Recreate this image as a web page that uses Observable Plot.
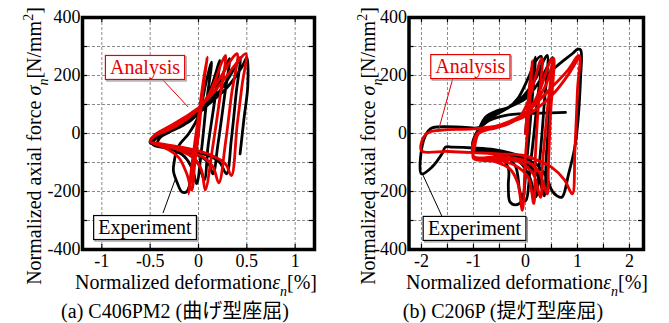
<!DOCTYPE html>
<html><head><meta charset="utf-8">
<script src="https://cdn.jsdelivr.net/npm/d3@7"></script>
<script src="https://cdn.jsdelivr.net/npm/@observablehq/plot@0.6"></script>
<style>
body{margin:0;background:#fff;}
#wrap{display:flex;width:669px;height:323px;overflow:hidden;}
svg{display:block;}
</style></head><body><div id="wrap"></div>
<script>
// ---------- data ----------
const yTicks = [-400, -200, 0, 200, 400];
const yGrid = [-300, -200, -100, 0, 100, 200, 300];
const xTicksA = [-1, -0.5, 0, 0.5, 1];
const xGridA = [-1, -0.5, 0, 0.5, 1];
const xTicksB = [-2, -1, 0, 1, 2];
const xGridB = [-2, -1.5, -1, -0.5, 0, 0.5, 1, 1.5, 2];

// (a) C406PM2 — Experiment (black)
const expA = [[0,0],[-0.06,-120],[-0.12,-200],[-0.17,-202],[-0.22,-170],[-0.26,-128],[-0.25,-95],[-0.24,-76],
[-0.2,-40],[-0.1,0],[0,60],[0.08,180],[0.135,246],
[0.08,100],[0.03,-60],[-0.02,-173],[-0.06,-125],[-0.15,-78],[-0.3,-52],[-0.42,-40],
[-0.4,-15],[-0.3,5],[-0.15,30],[0,70],[0.1,130],[0.18,210],[0.22,252],
[0.17,120],[0.1,-40],[0.06,-160],[0.0,-105],[-0.1,-72],[-0.3,-52],[-0.47,-38],
[-0.42,-10],[-0.3,10],[-0.1,40],[0.05,90],[0.18,150],[0.27,220],[0.32,258],
[0.27,130],[0.2,-40],[0.15,-139],[0.1,-100],[0,-76],[-0.2,-56],[-0.48,-36],
[-0.45,-10],[-0.3,15],[-0.1,45],[0.1,100],[0.25,160],[0.38,230],[0.43,262],
[0.39,140],[0.34,-20],[0.29,-139],[0.22,-100],[0.1,-76],[-0.1,-60],[-0.3,-46],[-0.5,-32],
[-0.45,-5],[-0.3,20],[-0.1,50],[0.1,100],[0.3,160],[0.45,230],[0.5,262],
[0.51,165],[0.47,50],[0.43,-70]];

// (a) C406PM2 — Analysis (red)
const anaA = [[0,0],[-0.06,-120],[-0.105,-208],[-0.05,-60],[0,60],[0.05,180],[0.09,263],
[0.05,160],[0,0],[-0.04,-110],[-0.07,-195],[-0.12,-140],[-0.2,-85],[-0.3,-58],[-0.4,-42],[-0.5,-28],
[-0.47,-12],[-0.4,0],[-0.3,14],[-0.2,32],[-0.1,55],[0,85],[0.1,130],[0.18,190],[0.24,245],[0.28,269],
[0.22,120],[0.15,-40],[0.07,-194],[0.03,-125],[-0.05,-85],[-0.2,-58],[-0.35,-42],[-0.5,-28],
[-0.45,-8],[-0.3,18],[-0.15,45],[0,85],[0.12,140],[0.25,205],[0.34,255],[0.4,275],
[0.34,130],[0.28,-30],[0.21,-170],[0.15,-115],[0.05,-82],[-0.1,-62],[-0.3,-45],[-0.5,-28],
[-0.45,-5],[-0.3,22],[-0.1,62],[0.1,120],[0.25,180],[0.4,245],[0.49,275],
[0.45,165],[0.4,30],[0.34,-145],[0.28,-105],[0.15,-78],[0,-60],[-0.2,-46],[-0.4,-35],[-0.5,-28],
[-0.45,-5],[-0.3,25],[-0.1,65],[0.05,100]];

// (b) C206P — Experiment (black)
const expB = [[0,0],[0.1,180],[0.19,263],
[0.12,100],[0.02,-100],[-0.08,-235],[-0.2,-246],[-0.3,-235],[-0.33,-180],[-0.33,-120],[-0.5,-80],[-0.75,-65],[-1.0,-58],
[-0.95,-10],[-0.9,12],[-0.77,56],[-0.55,78],[-0.32,91],[-0.15,120],[0.05,190],[0.2,250],[0.3,266],
[0.22,100],[0.1,-100],[0.0,-232],[-0.1,-205],[-0.2,-110],[-0.5,-68],[-1.0,-52],
[-0.92,5],[-0.75,45],[-0.4,82],[-0.1,118],[0.2,190],[0.36,255],[0.42,269],
[0.36,100],[0.27,-100],[0.2,-218],[0.08,-150],[-0.1,-100],[-0.5,-60],[-1.0,-50],
[-0.92,8],[-0.7,55],[-0.35,88],[0,120],[0.25,175],[0.45,240],[0.52,262],
[0.47,100],[0.4,-80],[0.36,-215],[0.25,-150],[0,-100],[-0.5,-62],[-1.0,-50],
[-0.92,10],[-0.6,62],[-0.3,92],[0,130],[0.3,180],[0.6,232],[0.9,275],[1.0,290],[1.06,288],
[1.06,194],[0.96,-35],[0.83,-139],[0.7,-220],[0.6,-214],[0.51,-197],[0.4,-150],[0.2,-105],[-0.2,-72],[-0.6,-56],[-1.0,-50],[-1.41,-47],[-1.54,-47],[-1.6,-68],[-1.8,-116],[-2.0,-139],
[-1.96,-24],[-1.83,16],[-1.73,22],[-1.22,22],[-0.9,20],[-0.7,45],[-0.4,62],[-0.1,68],[0.3,70],[0.77,73]];

// (b) C206P — Analysis (red)
const anaB = [[0,0],[0.06,130],[0.13,252],
[0.08,100],[0,-80],[-0.06,-265],[-0.15,-170],[-0.3,-122],[-0.6,-96],[-1.0,-86],
[-0.97,-40],[-0.93,-5],[-0.85,8],[-0.6,18],[-0.3,35],[-0.1,60],[0.05,110],[0.2,200],[0.28,248],[0.32,258],
[0.25,100],[0.19,-80],[0.16,-242],[0.05,-150],[-0.2,-110],[-0.6,-90],[-1.0,-84],
[-0.96,-30],[-0.9,0],[-0.6,20],[-0.2,45],[0.1,90],[0.3,160],[0.45,240],[0.51,258],
[0.42,80],[0.33,-100],[0.29,-220],[0.15,-140],[-0.1,-100],[-0.5,-86],[-1.0,-80],
[-0.95,-20],[-0.9,5],[-0.5,25],[-0.1,55],[0.2,110],[0.4,170],[0.5,230],[0.55,258],
[0.48,60],[0.44,-120],[0.42,-208],[0.25,-130],[0,-95],[-0.5,-80],[-1.0,-78],
[-0.93,0],[-0.8,12],[-0.4,35],[0,70],[0.4,140],[0.8,215],[1.03,269],
[1.0,150],[0.95,-60],[0.9,-208],[0.75,-160],[0.5,-116],[0.2,-90],[-0.06,-75],[-0.5,-70],[-1.0,-66],[-1.5,-62],[-2.0,-59],
[-1.96,-13],[-1.85,5],[-1.6,12],[-1.0,16],[-0.5,28],[0,60],[0.5,130],[0.85,210],[1.03,265]];

// annotation labels (anchor in data units) and leader lines
const notesA = [
  {text: "Analysis", color: "#e60000", x: -0.548, y: 226, x1: -0.372, y1: 186, x2: -0.103, y2: 90},
  {text: "Experiment", color: "#000", x: -0.548, y: -326, x1: -0.362, y1: -276, x2: -0.238, y2: -162}
];
const notesB = [
  {text: "Analysis", color: "#e60000", x: -1.05, y: 229, x1: -1.385, y1: 190, x2: -1.673, y2: 3},
  {text: "Experiment", color: "#000", x: -0.97, y: -329, x1: -1.6, y1: -286, x2: -1.98, y2: -138}
];
const captionA = "(a) C406PM2 (曲げ型座屈)";
const captionB = "(b) C206P (提灯型座屈)";

// ---------- drawing ----------
const FONT = "'Liberation Serif','Times New Roman','Noto Sans CJK JP',serif";
const RED = "#e60000";
const H = 323;

function panel(o) {
  const innerW = o.width - o.ml - o.mr, innerH = H - o.mt - o.mb;
  const chart = Plot.plot({
    width: o.width, height: H,
    marginLeft: o.ml, marginRight: o.mr, marginTop: o.mt, marginBottom: o.mb,
    x: {domain: o.xDomain},
    y: {domain: [-400, 400]},
    style: {fontFamily: FONT, fontSize: "18px", color: "black", background: "white", overflow: "visible"},
    marks: [
      Plot.gridX(o.xGrid, {stroke: "#8a8a8a", strokeOpacity: 1, strokeDasharray: "3,2", strokeWidth: 1}),
      Plot.gridY(yGrid, {stroke: "#8a8a8a", strokeOpacity: 1, strokeDasharray: "3,2", strokeWidth: 1}),
      Plot.tickX(o.xGrid, {x: d => d, insetBottom: innerH - 5, stroke: "black", strokeWidth: 1.2}),
      Plot.tickX(o.xGrid, {x: d => d, insetTop: innerH - 5, stroke: "black", strokeWidth: 1.2}),
      Plot.tickY(yGrid, {y: d => d, insetRight: innerW - 5, stroke: "black", strokeWidth: 1.2}),
      Plot.tickY(yGrid, {y: d => d, insetLeft: innerW - 5, stroke: "black", strokeWidth: 1.2}),
      Plot.line(o.exp, {x: d => d[0], y: d => d[1], stroke: "black", strokeWidth: 2.8, curve: "catmull-rom", strokeLinejoin: "round"}),
      Plot.line(o.ana, {x: d => d[0], y: d => d[1], stroke: RED, strokeWidth: 2.8, curve: "catmull-rom", strokeLinejoin: "round"}),
      Plot.frame({stroke: "black", strokeWidth: 3.5}),
      Plot.axisX(o.xTicks, {tickSize: 0, tickPadding: 5, tickFormat: d => String(d), label: null}),
      Plot.axisY(yTicks, {tickSize: 0, tickPadding: 2, tickFormat: d => String(d), label: null})
    ]
  });
  document.getElementById("wrap").appendChild(chart);
  const sx = chart.scale("x"), sy = chart.scale("y");
  const svg = d3.select(chart);
  const g = svg.append("g").attr("font-family", FONT).attr("font-size", 20);

  // annotations
  for (const n of o.notes) {
    g.append("line")
      .attr("x1", sx.apply(n.x1)).attr("y1", sy.apply(n.y1))
      .attr("x2", sx.apply(n.x2)).attr("y2", sy.apply(n.y2))
      .attr("stroke", n.color).attr("stroke-width", 1);
    const cx = sx.apply(n.x), cy = sy.apply(n.y);
    const t = g.append("text").attr("x", cx).attr("y", cy + 6.5)
      .attr("text-anchor", "middle").attr("fill", n.color).text(n.text);
    const bb = t.node().getBBox();
    const w = bb.width + 9, h = 24;
    g.insert("rect", "text:last-of-type")
      .attr("x", cx - w / 2 + 1.5).attr("y", cy - h / 2 + 1.5).attr("width", w).attr("height", h)
      .attr("fill", "none").attr("stroke", "#9a9a9a").attr("stroke-width", 1.2);
    g.insert("rect", "text:last-of-type")
      .attr("x", cx - w / 2).attr("y", cy - h / 2).attr("width", w).attr("height", h)
      .attr("fill", "white").attr("stroke", n.color).attr("stroke-width", 1.2);
  }

  // x axis title
  const xt = g.append("text").attr("x", o.xTitleX).attr("y", 288.5).attr("text-anchor", "middle");
  xt.append("tspan").text("Normalized deformation");
  xt.append("tspan").attr("font-style", "italic").text("ε");
  xt.append("tspan").attr("font-style", "italic").attr("font-size", 14).attr("dy", 7).text("n");
  xt.append("tspan").attr("dy", -7).text("[%]");

  // y axis title
  const yt = g.append("text").attr("transform", `translate(${o.yTitleX},146) rotate(-90)`).attr("text-anchor", "middle");
  yt.append("tspan").text("Normalized axial force ");
  yt.append("tspan").attr("font-style", "italic").text("σ");
  yt.append("tspan").attr("font-style", "italic").attr("font-size", 14).attr("dy", 7).text("n");
  yt.append("tspan").attr("dy", -7).text("[N/mm");
  yt.append("tspan").attr("font-size", 14).attr("dy", -8).text("2");
  yt.append("tspan").attr("dy", 8).text("]");

  // caption
  g.append("text").attr("x", o.capX).attr("y", 318).attr("text-anchor", "middle").text(o.caption);
}

panel({width: 335, ml: 82, mr: 21, mt: 17, mb: 74, xDomain: [-1.2, 1.2], xTicks: xTicksA, xGrid: xGridA,
  exp: expA, ana: anaA, notes: notesA, caption: captionA, xTitleX: 196, yTitleX: 41, capX: 175});
panel({width: 334, ml: 73.5, mr: 26, mt: 17, mb: 74, xDomain: [-2.24, 2.27], xTicks: xTicksB, xGrid: xGridB,
  exp: expB, ana: anaB, notes: notesB, caption: captionB, xTitleX: 192, yTitleX: 40, capX: 168});
</script></body></html>
